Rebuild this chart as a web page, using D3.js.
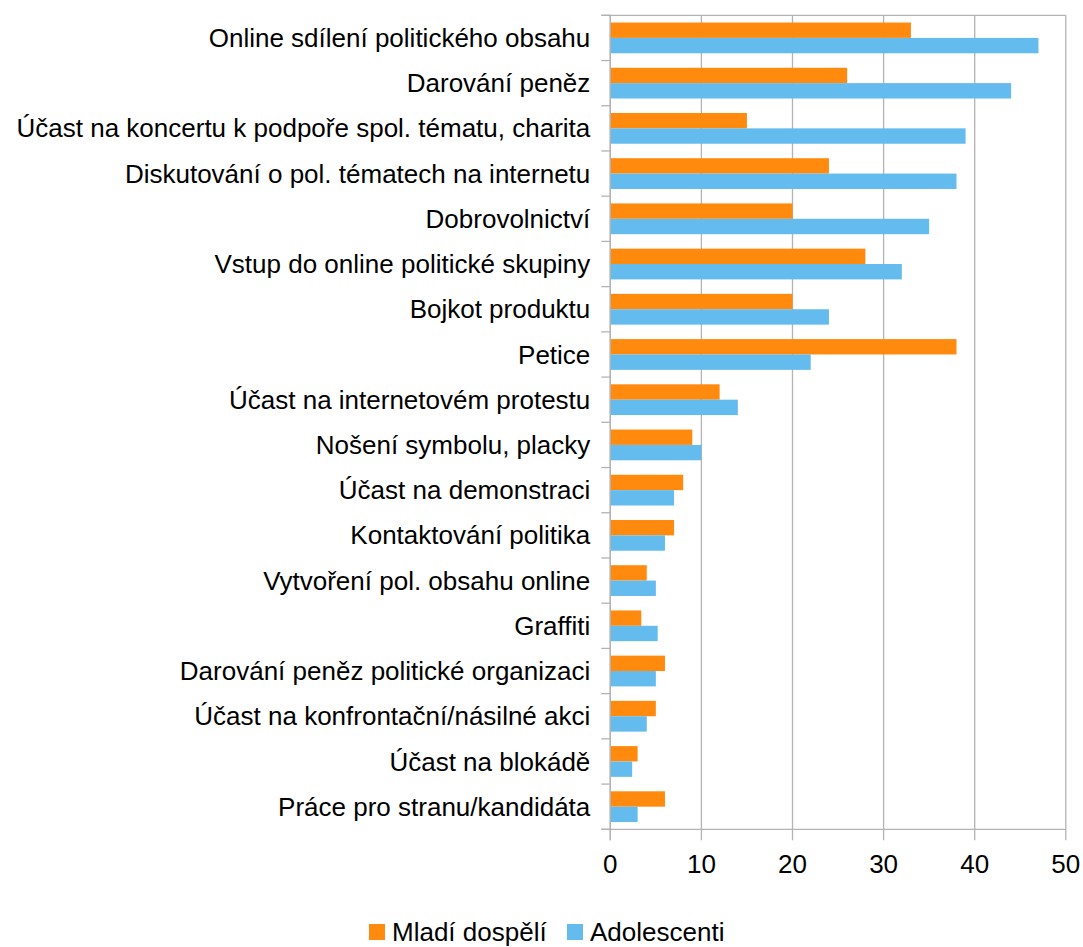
<!DOCTYPE html>
<html>
<head>
<meta charset="utf-8">
<script src="https://d3js.org/d3.v7.min.js"></script>
<style>
    body { margin: 0; background: #fff; }
    text { font-family: "Liberation Sans", Arial, sans-serif; fill: #000; }
    .cat-label { font-size: 26px; }
    .tick-label { font-size: 26px; }
    .legend text { font-size: 26px; }
</style>
</head>
<body>
<svg id="chart"></svg>
<script>
    const categories = [
        "Online sdílení politického obsahu",
        "Darování peněz",
        "Účast na koncertu k podpoře spol. tématu, charita",
        "Diskutování o pol. tématech na internetu",
        "Dobrovolnictví",
        "Vstup do online politické skupiny",
        "Bojkot produktu",
        "Petice",
        "Účast na internetovém protestu",
        "Nošení symbolu, placky",
        "Účast na demonstraci",
        "Kontaktování politika",
        "Vytvoření pol. obsahu online",
        "Graffiti",
        "Darování peněz politické organizaci",
        "Účast na konfrontační/násilné akci",
        "Účast na blokádě",
        "Práce pro stranu/kandidáta"
    ];
    const youngAdults = [33, 26, 15, 24, 20, 28, 20, 38, 12, 9, 8, 7, 4, 3.4, 6, 5, 3, 6];
    const adolescents = [47, 44, 39, 38, 35, 32, 24, 22, 14, 10, 7, 6, 5, 5.2, 5, 4, 2.4, 3];
    const seriesNames = ["Mladí dospělí", "Adolescenti"];
    const seriesColors = ["#ff8a0e", "#63bbee"];
    const xTicks = [0, 10, 20, 30, 40, 50];

    const W = 1083, H = 947;
    const margin = { top: 15.3, left: 610.3 };
    const plotW = 455.5, plotH = 814;

    const svg = d3.select("#chart").attr("width", W).attr("height", H)
        .append("g")
        .attr("transform", `translate(${margin.left},${margin.top})`);

    const x = d3.scaleLinear().domain([0, 50]).range([0, plotW]);
    const y = d3.scaleBand().domain(categories).range([0, plotH]);
    const bw = y.bandwidth();
    const inner = d3.scaleBand().domain(seriesNames).range([bw * 0.16, bw * 0.84]);

    const gridColor = "#b3b3b3";

    // vertical grid lines
    svg.selectAll(".grid")
        .data(xTicks)
        .enter()
        .append("line")
        .attr("x1", d => x(d)).attr("x2", d => x(d))
        .attr("y1", 0).attr("y2", plotH)
        .attr("stroke", gridColor).attr("stroke-width", 1.3);

    // top/bottom frame lines
    [0, plotH].forEach(yy => {
        svg.append("line")
            .attr("x1", -9).attr("x2", x(50))
            .attr("y1", yy).attr("y2", yy)
            .attr("stroke", gridColor).attr("stroke-width", 1.3);
    });

    // category boundary ticks
    const bounds = categories.map(c => y(c)).concat([plotH]);
    svg.selectAll(".ytick")
        .data(bounds)
        .enter()
        .append("line")
        .attr("x1", -9).attr("x2", 0)
        .attr("y1", d => d).attr("y2", d => d)
        .attr("stroke", gridColor).attr("stroke-width", 1.3);

    // bottom ticks
    svg.selectAll(".xtick")
        .data(xTicks)
        .enter()
        .append("line")
        .attr("x1", d => x(d)).attr("x2", d => x(d))
        .attr("y1", plotH).attr("y2", plotH + 11)
        .attr("stroke", gridColor).attr("stroke-width", 1.3);

    const rows = categories.map((c, i) => ({ cat: c, vals: [youngAdults[i], adolescents[i]] }));

    const groups = svg.selectAll(".row")
        .data(rows)
        .enter()
        .append("g")
        .attr("transform", d => `translate(0,${y(d.cat)})`);

    groups.selectAll("rect")
        .data(d => d.vals.map((v, i) => ({ name: seriesNames[i], value: v, color: seriesColors[i] })))
        .enter()
        .append("rect")
        .attr("x", 0)
        .attr("y", d => inner(d.name))
        .attr("width", d => x(d.value))
        .attr("height", inner.bandwidth())
        .attr("fill", d => d.color);

    // left axis line
    svg.append("line")
        .attr("x1", 0).attr("x2", 0).attr("y1", 0).attr("y2", plotH + 11)
        .attr("stroke", gridColor).attr("stroke-width", 1.3);

    svg.selectAll(".cat-label")
        .data(categories)
        .enter()
        .append("text")
        .attr("class", "cat-label")
        .attr("x", -20)
        .attr("y", d => y(d) + bw / 2)
        .attr("dy", "0.35em")
        .attr("text-anchor", "end")
        .text(d => d);

    svg.selectAll(".tick-label")
        .data(xTicks)
        .enter()
        .append("text")
        .attr("class", "tick-label")
        .attr("x", d => x(d))
        .attr("y", 864 - margin.top)
        .attr("dy", "0.35em")
        .attr("text-anchor", "middle")
        .text(d => d);

    // legend
    const legend = d3.select("#chart").append("g").attr("class", "legend");
    const legendItems = [
        { name: seriesNames[0], color: seriesColors[0], x: 369 },
        { name: seriesNames[1], color: seriesColors[1], x: 567 }
    ];
    legendItems.forEach(it => {
        legend.append("rect")
            .attr("x", it.x).attr("y", 924)
            .attr("width", 16).attr("height", 16)
            .attr("fill", it.color);
        legend.append("text")
            .attr("x", it.x + 23).attr("y", 931.5)
            .attr("dy", "0.35em")
            .text(it.name);
    });
</script>
</body>
</html>
